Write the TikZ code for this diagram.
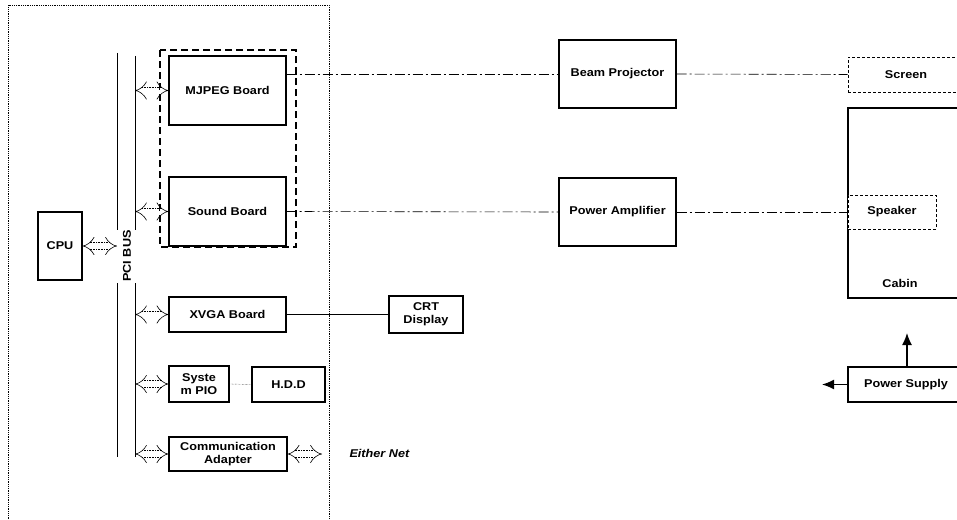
\documentclass[tikz,border=0pt]{standalone}
\usepackage{fontspec}
\setmainfont[FakeStretch=1.12]{Liberation Sans}
\usetikzlibrary{arrows.meta}
\begin{document}
\begin{tikzpicture}[x=1pt,y=-1pt,
		font=\bfseries\fontsize{11.3}{13}\selectfont,
		unit/.style={draw, line width=1.1pt, inner sep=0pt, align=center},
		dashunit/.style={unit, densely dashed, line width=0.9pt},
		buslink/.style={double, double distance=6pt, densely dotted, line width=0.6pt, {Implies}-{Implies}},
		signal/.style={line width=0.6pt, dash pattern=on 10pt off 3pt on 2pt off 3pt},
		feed/.style={line width=1.4pt, -{Latex[length=12pt,width=10pt]}}]
		\useasboundingbox (0,0) rectangle (957,519);
		\clip (0,0) rectangle (957,519);

		\draw [densely dotted, line width=0.8pt] (8,530) -- (8,5) -- (329,5) -- (329,530);
		\draw [dashed, dash pattern=on 7pt off 4pt, line width=1.4pt] (160,50) rectangle (296,247);

		\coordinate (BusLeftTop) at (117,53);
		\coordinate (BusLeftBottom) at (117,457);
		\coordinate (BusRightTop) at (135,56);
		\coordinate (BusRightBottom) at (135,457);
		\node [rotate=90] (PciBus) at (127,256) {PCI BUS};
		\draw (BusLeftTop) -- (117,230);
		\draw (117,283) -- (BusLeftBottom);
		\draw (BusRightTop) -- (135,230);
		\draw (135,283) -- (BusRightBottom);

		\node [unit, minimum width=44pt, minimum height=68pt] (Cpu) at (60,246) {CPU};
		\node [unit, minimum width=117pt, minimum height=69pt] (Mjpeg) at (227.5,90.5) {MJPEG Board};
		\node [unit, minimum width=117pt, minimum height=69pt] (Sound) at (227.5,211.5) {Sound Board};
		\node [unit, minimum width=117pt, minimum height=35pt] (Xvga) at (227.5,314.5) {XVGA Board};
		\node [unit, minimum width=60pt, minimum height=36pt] (Pio) at (199,384) {Syste\\m PIO};
		\node [unit, minimum width=73pt, minimum height=35pt] (Hdd) at (288.5,384.5) {H.D.D};
		\node [unit, minimum width=118pt, minimum height=34pt] (Comm) at (228,454) {Communication\\Adapter};
		\node [unit, minimum width=74pt, minimum height=37pt] (Crt) at (426,314.5) {CRT\\Display};
		\node [unit, minimum width=117pt, minimum height=68pt] (Beam) at (617.5,74) {Beam Projector};
		\node [unit, minimum width=117pt, minimum height=68pt] (Amp) at (617.5,212) {Power Amplifier};
		\node [unit, minimum width=116pt, minimum height=190pt] (Cabin) at (906,203) {};
		\node (CabinLabel) at (900,283) {Cabin};
		\node [dashunit, minimum width=116pt, minimum height=35pt] (Screen) at (906,74.5) {Screen};
		\node [dashunit, fill=white, minimum width=88pt, minimum height=34pt] (Speaker) at (892,212) {Speaker};
		\node [unit, minimum width=116pt, minimum height=35pt] (Supply) at (906,384.5) {Power Supply};
		\node [font=\bfseries\itshape\fontsize{11.3}{13}\selectfont, anchor=west] (EtherNet) at (346,453) {Either Net};
		\coordinate (EtherEnd) at (322,454);
		\coordinate (CabinFeed) at (907,333);
		\coordinate (SideFeed) at (822,384.5);

		\draw [buslink] (Cpu.east) -- (Cpu.east -| BusLeftTop);
		\draw [buslink] (Mjpeg.west -| BusRightTop) -- (Mjpeg.west);
		\draw [buslink] (Sound.west -| BusRightTop) -- (Sound.west);
		\draw [buslink] (Xvga.west -| BusRightTop) -- (Xvga.west);
		\draw [buslink] (Pio.west -| BusRightTop) -- (Pio.west);
		\draw [buslink] (Comm.west -| BusRightTop) -- (Comm.west);
		\draw [buslink] (Comm.east) -- (EtherEnd);

		\draw [signal] (Mjpeg.east |- Beam.west) -- (Beam.west);
		\draw [signal] (Beam.east) -- (Screen.west);
		\draw [signal] (Sound.east) -- (Amp.west);
		\draw [signal] (Amp.east) -- (Speaker.west);
		\draw [line width=0.9pt] (Xvga.east) -- (Crt.west);
		\draw [densely dotted] (Pio.east) -- (Hdd.west);

		\draw [feed] (Supply.north -| CabinFeed) -- (CabinFeed);
		\draw [feed] (Supply.west) -- (SideFeed);
	\end{tikzpicture}
\end{document}
